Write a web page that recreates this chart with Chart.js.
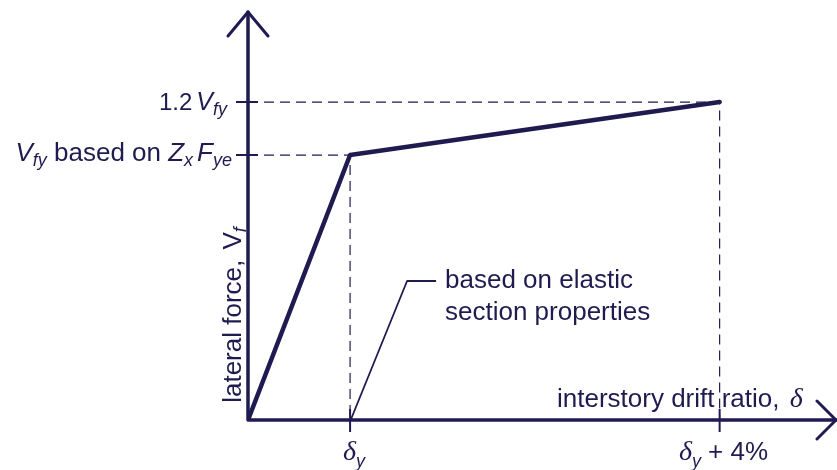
<!DOCTYPE html>
<html>
<head>
<meta charset="utf-8">
<script src="https://cdn.jsdelivr.net/npm/chart.js@4/dist/chart.umd.min.js"></script>
<style>
  html, body { margin: 0; padding: 0; background: #fff; }
  #wrap { width: 837px; height: 470px; position: relative; }
</style>
</head>
<body>
<div id="wrap"><canvas id="chart"></canvas></div>
<script>
// idealised force / drift curve (units: drift in multiples of delta_y, force in multiples of Vfy)
const drift = [0, 1, 4.62]
const force = [0, 1, 1.2]
const driftMax = 5.76
const forceMax = 1.54

const navy = '#1f1b50'
const sans = '"Liberation Sans", Arial, sans-serif'
const serif = '"Liberation Serif", "Times New Roman", serif'
const main = '26px ' + sans
const ital = 'italic 26px ' + sans
const sub = 'italic 18px ' + sans
const delta = 'italic 28px ' + serif

const curve = drift.map((x, i) => ({ x: x, y: force[i] }))
const guides = drift.slice(1).map((x, i) => [
  { x: 0, y: force[i + 1] }, { x: x, y: force[i + 1] }, { x: x, y: 0 }
])

function drawRich(ctx, parts, x, y, align) {
  let w = 0
  parts.forEach(p => {
    ctx.font = p.font
    p.w = ctx.measureText(p.t).width
    w += p.w + (p.gap || 0)
  })
  let cx = align === 'right' ? x - w : align === 'center' ? x - w / 2 : x
  parts.forEach(p => {
    ctx.font = p.font
    ctx.fillText(p.t, cx, y + (p.dy || 0))
    cx += p.w + (p.gap || 0)
  })
}

const decorations = {
  id: 'decorations',
  afterDatasetsDraw(chart) {
    const ctx = chart.ctx
    const xs = chart.scales.x
    const ys = chart.scales.y
    const x0 = xs.getPixelForValue(0)
    const y0 = ys.getPixelForValue(0)
    const xEnd = xs.getPixelForValue(driftMax)
    const yEnd = ys.getPixelForValue(forceMax)

    ctx.save()
    ctx.strokeStyle = navy
    ctx.fillStyle = navy
    ctx.lineCap = 'round'
    ctx.lineJoin = 'round'

    // axes
    ctx.lineWidth = 3.5
    ctx.beginPath()
    ctx.moveTo(x0, y0); ctx.lineTo(x0, yEnd)
    ctx.moveTo(x0, y0); ctx.lineTo(xEnd, y0)
    ctx.stroke()

    // arrow heads
    ctx.lineWidth = 3
    ctx.beginPath()
    ctx.moveTo(x0 - 20, yEnd + 24); ctx.lineTo(x0, yEnd); ctx.lineTo(x0 + 20, yEnd + 24)
    ctx.moveTo(xEnd - 19, y0 - 19); ctx.lineTo(xEnd, y0); ctx.lineTo(xEnd - 19, y0 + 19)
    ctx.stroke()

    // ticks
    ctx.lineWidth = 2
    ctx.lineCap = 'butt'
    ctx.beginPath()
    force.slice(1).forEach(v => {
      const py = ys.getPixelForValue(v)
      ctx.moveTo(x0 - 12, py); ctx.lineTo(x0 + 10, py)
    })
    drift.slice(1).forEach(v => {
      const px = xs.getPixelForValue(v)
      ctx.moveTo(px, y0 - 11); ctx.lineTo(px, y0 + 12)
    })
    ctx.stroke()

    // leader line to note
    const lx = xs.getPixelForValue(drift[1])
    ctx.lineWidth = 1.8
    ctx.beginPath()
    ctx.moveTo(lx + 1, y0 - 1)
    ctx.lineTo(lx + 57, y0 - 139)
    ctx.lineTo(lx + 86, y0 - 139)
    ctx.stroke()

    // texts
    ctx.textBaseline = 'alphabetic'
    const yUlt = ys.getPixelForValue(force[2])
    const yYld = ys.getPixelForValue(force[1])
    drawRich(ctx, [
      { t: '1.2', font: '24px ' + sans, gap: 4 },
      { t: 'V', font: 'italic 25px ' + sans },
      { t: 'fy', font: sub, dy: 5 }
    ], 227, yUlt + 8, 'right')
    drawRich(ctx, [
      { t: 'V', font: ital },
      { t: 'fy', font: sub, dy: 5 },
      { t: ' based on ', font: main },
      { t: 'Z', font: ital },
      { t: 'x', font: sub, dy: 5, gap: 4 },
      { t: 'F', font: ital },
      { t: 'ye', font: sub, dy: 5 }
    ], 232, yYld + 6, 'right')

    drawRich(ctx, [
      { t: 'interstory drift ratio, ', font: main, gap: 3 },
      { t: '\u03b4', font: delta }
    ], 557, y0 - 13, 'left')

    const xY = xs.getPixelForValue(drift[1])
    drawRich(ctx, [
      { t: '\u03b4', font: delta },
      { t: 'y', font: sub, dy: 7 }
    ], xY + 4, y0 + 40, 'center')
    drawRich(ctx, [
      { t: '\u03b4', font: delta },
      { t: 'y', font: sub, dy: 7, gap: 7 },
      { t: '+ 4%', font: main }
    ], 679, y0 + 40, 'left')

    ctx.font = main
    ctx.fillText('based on elastic', 445, 288)
    ctx.fillText('section properties', 445, 320)

    // y axis title
    ctx.save()
    ctx.translate(241, 315)
    ctx.rotate(-Math.PI / 2)
    drawRich(ctx, [
      { t: 'lateral force, ', font: main, gap: 3 },
      { t: 'V', font: main },
      { t: 'f', font: sub, dy: 5 }
    ], 0, 0, 'center')
    ctx.restore()

    ctx.restore()
  }
}

const datasets = guides.map(g => ({
  data: g,
  showLine: true,
  borderColor: navy,
  borderWidth: 1.2,
  borderDash: [10, 6],
  pointRadius: 0,
  order: 2
}))
datasets.push({
  data: curve,
  showLine: true,
  borderColor: navy,
  borderWidth: 4.5,
  borderCapStyle: 'round',
  borderJoinStyle: 'round',
  pointRadius: 0,
  order: 1
})

new Chart(document.getElementById('chart'), {
  type: 'scatter',
  data: { datasets: datasets },
  options: {
    responsive: true,
    maintainAspectRatio: false,
    animation: false,
    layout: { padding: { left: 248, right: 1, top: 12, bottom: 50 } },
    scales: {
      x: { type: 'linear', min: 0, max: driftMax, display: false },
      y: { type: 'linear', min: 0, max: forceMax, display: false }
    },
    plugins: {
      legend: { display: false },
      tooltip: { enabled: false }
    }
  },
  plugins: [decorations]
})
</script>
</body>
</html>
